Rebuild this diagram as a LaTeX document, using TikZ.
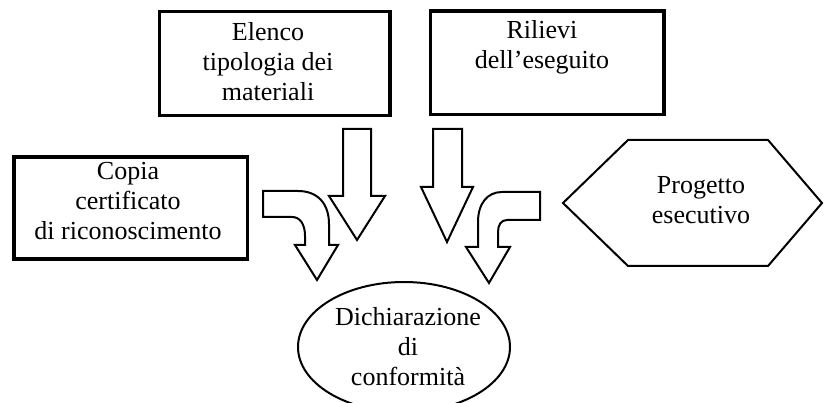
\documentclass[tikz,border=0pt]{standalone}
\usepackage{fontspec}
\setmainfont{Liberation Serif}
\usetikzlibrary{shapes.geometric}
\begin{document}
\begin{tikzpicture}[x=1pt,y=-1pt,
  box/.style={draw, line width=3.8pt, inner sep=0pt},
  txt/.style={font=\fontsize{26pt}{30pt}\selectfont, align=center, inner sep=0pt, anchor=north},
  blockarrow/.style={draw, line width=2pt, fill=white, line join=miter},
  outline/.style={draw, line width=2pt}]
\clip (0,0) rectangle (824,403);
\fill[white] (0,0) rectangle (824,403);
% boxes
\node[box, minimum width=230.5pt, minimum height=104pt] (elenco) at (274.75,63.5) {};
\node[txt] (elencot) at (268,22) {Elenco\\tipologia dei\\materiali};
\node[box, minimum width=233.5pt, minimum height=103.5pt] (rilievi) at (547.25,62.75) {};
\node[txt] (rilievit) at (542,20) {Rilievi\\dell’eseguito};
\node[box, minimum width=233.5pt, minimum height=102pt] (copia) at (130.75,208) {};
\node[txt] (copiat) at (128,162) {Copia\\certificato\\di riconoscimento};
% hexagon
\draw[outline] (563,203) -- (628,140) -- (768,140) -- (822,203) -- (768,266) -- (628,266) -- cycle;
\node[txt] (progetto) at (701,176.5) {Progetto\\esecutivo};
% ellipse
\node[ellipse, outline, minimum width=212pt, minimum height=130pt, inner sep=0pt] (dich) at (404,347) {};
\node[txt] (dicht) at (408,307) {Dichiarazione\\di\\conformità};
% straight arrows
\draw[blockarrow] (343,129) -- (371,129) -- (371,196) -- (385,196) -- (357,240) -- (329,196) -- (343,196) -- cycle;
\draw[blockarrow] (433,129) -- (462,129) -- (462,187) -- (473,187) -- (447,242) -- (421,187) -- (433,187) -- cycle;
% curved arrow left
\draw[blockarrow] (263,191) -- (298,191) .. controls (318,191) and (329,204) .. (329,224)
  -- (329,245) -- (338,245) -- (317,280) -- (295,245) -- (305,245) -- (305,236)
  .. controls (305,224) and (300,217) .. (292,217) -- (263,217) -- cycle;
% curved arrow right
\draw[blockarrow] (540,192) -- (502,192) .. controls (487,192) and (478,204) .. (478,222)
  -- (478,247) -- (466,247) -- (489,283) -- (510,247) -- (498,247) -- (498,232)
  .. controls (498,225) and (501,220) .. (507,220) -- (540,220) -- cycle;
\end{tikzpicture}
\end{document}
